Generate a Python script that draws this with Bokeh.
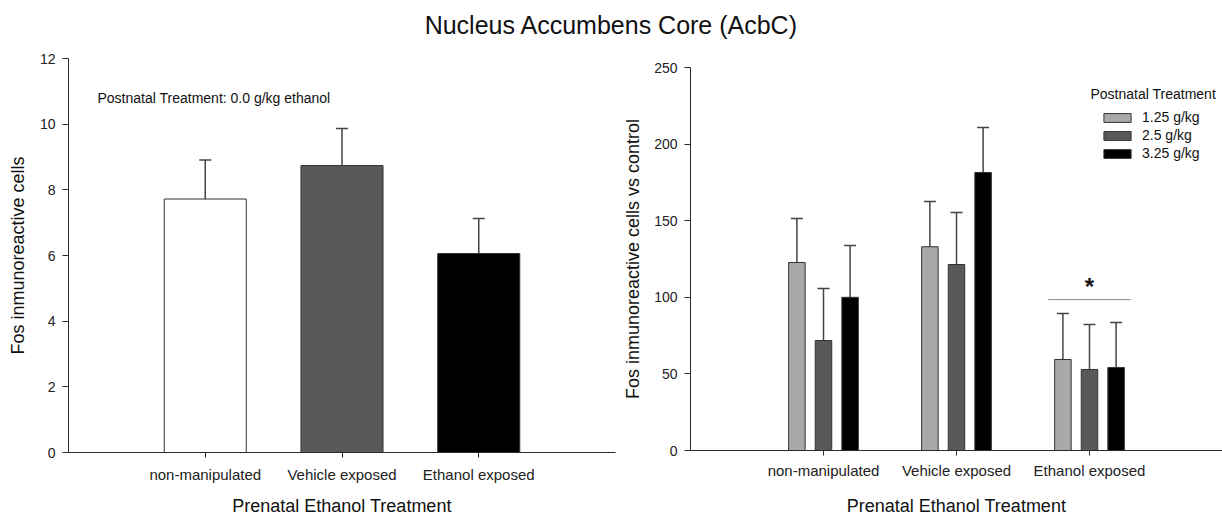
from bokeh.plotting import figure
from bokeh.layouts import column, row
from bokeh.models import (FixedTicker, ColumnDataSource, Whisker, TeeHead, Legend,
                          LegendItem, Label, Range1d)
from bokeh.embed import file_html
from bokeh.resources import INLINE

# ---------------- data ----------------
title_text = "Nucleus Accumbens Core (AcbC)"
categories = ["non-manipulated", "Vehicle exposed", "Ethanol exposed"]

left_means = [7.72, 8.74, 6.06]
left_sem = [1.19, 1.13, 1.07]
left_note = "Postnatal Treatment: 0.0 g/kg ethanol"
left_yticks = [0, 2, 4, 6, 8, 10, 12]

series_names = ["1.25 g/kg", "2.5 g/kg", "3.25 g/kg"]
g125_means = [122.7, 133.0, 59.4]
g125_sem = [28.7, 29.5, 30.0]
g25_means = [71.8, 121.4, 52.9]
g25_sem = [33.9, 33.9, 29.3]
g325_means = [100.0, 181.5, 54.2]
g325_sem = [33.8, 29.3, 29.3]
right_yticks = [0, 50, 100, 150, 200, 250]
legend_title = "Postnatal Treatment"
sig_line_y = 98.5
sig_star_y = 107

x_label = "Prenatal Ethanol Treatment"
left_ylabel = "Fos inmunoreactive cells"
right_ylabel = "Fos inmunoreactive cells vs control"

FONT = "Liberation Sans"
AXIS_COLOR = "#2a2a2a"
ERR_COLOR = "#444444"
left_colors = ["#ffffff", "#595959", "#000000"]
right_colors = ["#a9a9a9", "#595959", "#000000"]

xs = [i + 1 for i in range(len(categories))]
overrides = {x: c for x, c in zip(xs, categories)}


def style(p, yticks, lab_standoff, axlab_standoff):
    p.xgrid.visible = False
    p.ygrid.visible = False
    p.outline_line_color = None
    p.background_fill_color = "white"
    p.border_fill_color = "white"
    for ax in (p.xaxis[0], p.yaxis[0]):
        ax.axis_line_color = AXIS_COLOR
        ax.major_tick_line_color = AXIS_COLOR
        ax.minor_tick_line_color = None
        ax.major_tick_in = 0
        ax.major_tick_out = 6
        ax.major_label_text_font = FONT
        ax.major_label_text_color = "#222222"
        ax.axis_label_text_font = FONT
        ax.axis_label_text_font_style = "normal"
        ax.axis_label_text_color = "#111111"
        ax.axis_label_text_font_size = "18px"
    p.yaxis.ticker = FixedTicker(ticks=yticks)
    p.yaxis.major_label_text_font_size = "14px"
    p.yaxis.major_label_standoff = 7
    p.yaxis.axis_label_standoff = 9
    p.xaxis.ticker = FixedTicker(ticks=xs)
    p.xaxis.major_label_overrides = overrides
    p.xaxis.major_label_text_font_size = "15px"
    p.xaxis.major_tick_out = 5
    p.xaxis.major_label_standoff = lab_standoff
    p.xaxis.axis_label_standoff = axlab_standoff
    p.xaxis.axis_label = x_label
    p.frame_align = False


# ---------------- title ----------------
pt = figure(width=1222, height=45, x_range=Range1d(0, 1), y_range=Range1d(0, 1),
            x_axis_type=None, y_axis_type=None, toolbar_location=None,
            output_backend="svg", min_border=0)
pt.outline_line_color = None
pt.xgrid.visible = False
pt.ygrid.visible = False
pt.add_layout(Label(x=611, y=21, x_units="screen", y_units="screen", text=title_text,
                    text_font=FONT, text_font_size="25px", text_align="center",
                    text_baseline="middle", text_color="#111111"))

# ---------------- left panel ----------------
p1 = figure(width=620, height=473, x_range=Range1d(0, 4), y_range=Range1d(0, 12),
            toolbar_location=None, output_backend="svg",
            min_border_left=68, min_border_right=5, min_border_top=13, min_border_bottom=66)
style(p1, left_yticks, 8, 10)
p1.yaxis.axis_label = left_ylabel
src1 = ColumnDataSource(dict(x=xs, top=left_means,
                             upper=[m + s for m, s in zip(left_means, left_sem)],
                             color=left_colors))
p1.vbar(x="x", top="top", width=0.6, source=src1, fill_color="color",
        line_color="#333333", line_width=1)
p1.add_layout(Whisker(base="x", lower="top", upper="upper", source=src1,
                      line_color=ERR_COLOR, line_width=1.5,
                      upper_head=TeeHead(size=12, line_color=ERR_COLOR, line_width=1.5),
                      lower_head=None))
p1.add_layout(Label(x=29, y=355, x_units="screen", y_units="screen", text=left_note,
                    text_font=FONT, text_font_size="14px", text_baseline="middle",
                    text_color="#111111"))

# ---------------- right panel ----------------
p2 = figure(width=602, height=473, x_range=Range1d(0, 4), y_range=Range1d(0, 250),
            toolbar_location=None, output_backend="svg",
            min_border_left=68, min_border_right=0, min_border_top=22, min_border_bottom=68)
style(p2, right_yticks, 6, 14)
p2.yaxis.axis_label = right_ylabel
p2.yaxis.axis_label_standoff = 8

series = [(g125_means, g125_sem), (g25_means, g25_sem), (g325_means, g325_sem)]
items = []
for j, ((means, sem), name, col) in enumerate(zip(series, series_names, right_colors)):
    off = (j - 1) * 0.2
    src = ColumnDataSource(dict(x=[x + off for x in xs], top=means,
                                upper=[m + s for m, s in zip(means, sem)]))
    r = p2.vbar(x="x", top="top", width=0.124, source=src, fill_color=col,
                line_color="#333333", line_width=1)
    p2.add_layout(Whisker(base="x", lower="top", upper="upper", source=src,
                          line_color=ERR_COLOR, line_width=1.5,
                          upper_head=TeeHead(size=12, line_color=ERR_COLOR, line_width=1.5),
                          lower_head=None))
    items.append(LegendItem(label=name, renderers=[r]))

legend = Legend(items=items, location=(410, 288), orientation="vertical",
                padding=0, margin=0, spacing=0, glyph_width=34, glyph_height=11,
                label_height=18, label_standoff=8, border_line_color=None,
                background_fill_alpha=0, label_text_font=FONT,
                label_text_font_size="14px", label_text_color="#111111")
p2.add_layout(legend)
p2.add_layout(Label(x=400, y=357, x_units="screen", y_units="screen", text=legend_title,
                    text_font=FONT, text_font_size="14px", text_baseline="middle",
                    text_color="#111111"))

# significance marker over ethanol-exposed group
p2.segment(x0=[xs[2] - 0.31], x1=[xs[2] + 0.31], y0=[sig_line_y], y1=[sig_line_y],
           line_color="#8a8a8a", line_width=1)
p2.add_layout(Label(x=xs[2], y=sig_star_y, text="*", text_font=FONT,
                    text_font_size="24px", text_font_style="bold",
                    text_align="center", text_baseline="alphabetic", text_color="#111111"))

layout = column(pt, row(p1, p2, spacing=0), spacing=0)
open("out.html", "w").write(file_html(layout, INLINE))
